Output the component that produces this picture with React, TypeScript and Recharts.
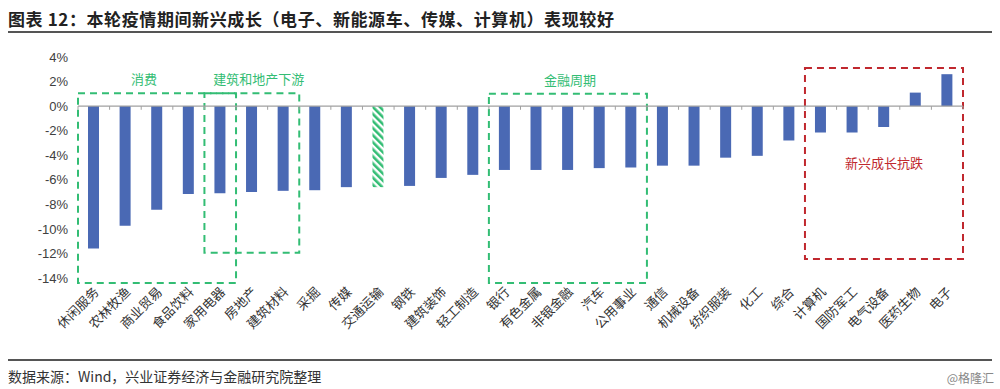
import React from 'react';
import {
  BarChart,
  Bar,
  Cell,
  XAxis,
  YAxis,
  ReferenceLine,
  ReferenceArea
} from 'recharts';

// 申万一级行业，本轮疫情期间涨跌幅（%）
const categories = [
  '休闲服务', '农林牧渔', '商业贸易', '食品饮料', '家用电器', '房地产', '建筑材料',
  '采掘', '传媒', '交通运输', '钢铁', '建筑装饰', '轻工制造', '银行', '有色金属',
  '非银金融', '汽车', '公用事业', '通信', '机械设备', '纺织服装', '化工', '综合',
  '计算机', '国防军工', '电气设备', '医药生物', '电子'
];
const changes = [
  -11.6, -9.75, -8.45, -7.15, -7.1, -7.0, -6.9,
  -6.85, -6.6, -6.6, -6.5, -5.85, -5.6, -5.2, -5.2,
  -5.2, -5.05, -5.0, -4.85, -4.85, -4.2, -4.05, -2.8,
  -2.15, -2.15, -1.7, 1.1, 2.6
];
const yTicks = [4, 2, 0, -2, -4, -6, -8, -10, -12, -14];
const hatchedCategory = '交通运输';

// 分组框：起止行业与上下沿（%）
const groupNames = ['消费', '建筑和地产下游', '金融周期', '新兴成长抗跌'];
const groupFrom = ['休闲服务', '家用电器', '银行', '计算机'];
const groupTo = ['家用电器', '建筑材料', '公用事业', '电子'];
const groupTop = [1.05, 1.05, 1.0, 3.1];
const groupBottom = [-14.4, -11.95, -14.4, -12.45];

const GREEN = '#33BD74';
const RED = '#C0282E';
const BLUE = '#4A69B4';
const AXIS = '#A0A0A0';
const CJK = '"Noto Sans CJK SC", sans-serif';

const data = categories.map((name, i) => ({ name, value: changes[i] }));
const lastCategory = categories[categories.length - 1];

const CategoryTick = (props: any) => {
  const { x, y, payload } = props;
  return (
    <g transform={`translate(${x + 3},${y + 4})`}>
      <text
        textAnchor="end"
        transform="rotate(-45)"
        fontSize={13}
        fill="#333"
        fontFamily={CJK}
        dy={4}
      >
        {payload.value}
      </text>
    </g>
  );
};

export default function App() {
  return (
    <div
      style={{
        position: 'absolute',
        left: 0,
        top: 0,
        width: 1000,
        height: 389,
        background: '#fff',
        fontFamily: CJK
      }}
    >
      <div
        style={{
          position: 'absolute',
          left: 8,
          top: 6,
          fontSize: 17,
          fontWeight: 700,
          color: '#222',
          letterSpacing: 0.6
        }}
      >
        图表 12：本轮疫情期间新兴成长（电子、新能源车、传媒、计算机）表现较好
      </div>
      <div style={{ position: 'absolute', left: 8, top: 31, width: 984, height: 2, background: '#555' }} />

      <div style={{ position: 'absolute', left: 0, top: 40 }}>
        <BarChart
          width={1000}
          height={310}
          data={data}
          margin={{ top: 17, right: 37, bottom: 2, left: 0 }}
          barSize={11}
        >
          <defs>
            <pattern
              id="hatch"
              patternUnits="userSpaceOnUse"
              width={5}
              height={5}
              patternTransform="rotate(-45)"
            >
              <rect x={0} y={0} width={5} height={5} fill="#fff" />
              <rect x={0} y={0} width={2.6} height={5} fill={GREEN} />
            </pattern>
          </defs>
          <XAxis
            dataKey="name"
            interval={0}
            height={70}
            axisLine={false}
            tickLine={false}
            tick={<CategoryTick />}
          />
          <YAxis
            domain={[-14, 4]}
            ticks={yTicks}
            interval={0}
            width={78}
            axisLine={false}
            tickLine={false}
            tickMargin={4}
            tickFormatter={(v: number) => `${v}%`}
            tick={{ fontSize: 13, fill: '#404040', fontFamily: 'Liberation Sans, Arial' }}
          />
          <ReferenceLine y={0} stroke={AXIS} strokeWidth={1.2} />
          {categories.map((c) => (
            <ReferenceLine
              key={`edge-${c}`}
              segment={[{ x: c, y: 0 }, { x: c, y: -0.3 }]}
              position="start"
              stroke={AXIS}
              ifOverflow="visible"
            />
          ))}
          <ReferenceLine
            segment={[{ x: lastCategory, y: 0 }, { x: lastCategory, y: -0.3 }]}
            position="end"
            stroke={AXIS}
            ifOverflow="visible"
          />
          <Bar dataKey="value" isAnimationActive={false}>
            {data.map((d) => (
              <Cell key={d.name} fill={d.name === hatchedCategory ? 'url(#hatch)' : BLUE} />
            ))}
          </Bar>
          {groupNames.map((g, i) => {
            const color = i === 3 ? RED : GREEN;
            const label =
              i === 3
                ? { value: g, position: 'center' as const, fill: RED, fontSize: 13, fontFamily: CJK }
                : {
                    value: g,
                    position: 'top' as const,
                    offset: 9,
                    dx: i === 0 ? -13 : i === 1 ? 7 : 2,
                    fill: GREEN,
                    fontSize: 13,
                    fontFamily: CJK
                  };
            return (
              <ReferenceArea
                key={g}
                x1={groupFrom[i]}
                x2={groupTo[i]}
                y1={groupBottom[i]}
                y2={groupTop[i]}
                ifOverflow="visible"
                fill="none"
                fillOpacity={0}
                stroke={color}
                strokeWidth={2}
                strokeDasharray="7 5"
                label={label}
              />
            );
          })}
        </BarChart>
      </div>

      <div style={{ position: 'absolute', left: 8, top: 359, width: 984, height: 1.5, background: '#555' }} />
      <div style={{ position: 'absolute', left: 8, top: 366, fontSize: 14, color: '#333' }}>
        数据来源：Wind，兴业证券经济与金融研究院整理
      </div>
      <div style={{ position: 'absolute', right: 6, top: 369, fontSize: 12, color: '#888' }}>
        @格隆汇
      </div>
    </div>
  );
}
